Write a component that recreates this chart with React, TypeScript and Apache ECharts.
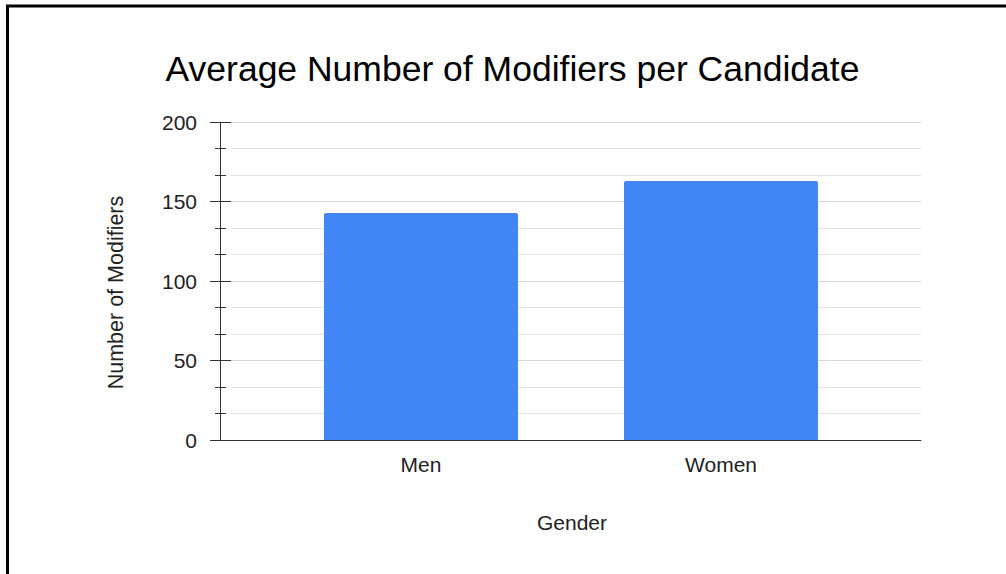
import React, { useEffect, useRef } from "react";
import * as echarts from "echarts";

// Chart content
const chartTitle = "Average Number of Modifiers per Candidate";
const xAxisTitle = "Gender";
const yAxisTitle = "Number of Modifiers";
const categories = ["Men", "Women"];
const modifierCounts = [142.7, 162.9];
const yMin = 0;
const yMax = 200;
const yInterval = 50;

const FONT = "'Liberation Sans', Arial, sans-serif";
const AXIS_COLOR = "#333333";
const TEXT_COLOR = "#222222";

export default function App() {
  const ref = useRef<HTMLDivElement>(null);

  useEffect(() => {
    document.body.style.margin = "0";
    if (!ref.current) return;
    const chart = echarts.init(ref.current, undefined, { renderer: "svg" });

    const option: echarts.EChartsOption = {
      animation: false,
      backgroundColor: "#ffffff",
      textStyle: { fontFamily: FONT },
      grid: [
        // frame for gridlines and the value axis
        { left: 231, right: 85, top: 122, bottom: 134 },
        // inner band for the bars
        { left: 271, right: 135, top: 122, bottom: 134 },
      ],
      xAxis: [
        {
          gridIndex: 0,
          type: "value",
          min: 0,
          max: 1,
          axisLine: {
            show: true,
            onZero: false,
            lineStyle: { color: AXIS_COLOR, width: 1 },
          },
          axisTick: { show: false },
          axisLabel: { show: false },
          splitLine: { show: false },
        },
        {
          gridIndex: 1,
          type: "category",
          data: categories,
          axisLine: { show: false },
          axisTick: { show: false },
          axisLabel: {
            fontSize: 21,
            color: TEXT_COLOR,
            fontFamily: FONT,
            margin: 14,
          },
        },
      ],
      yAxis: [
        {
          gridIndex: 0,
          type: "value",
          position: "left",
          min: yMin,
          max: yMax,
          interval: yInterval,
          offset: 11,
          axisLine: {
            show: true,
            onZero: false,
            lineStyle: { color: AXIS_COLOR, width: 1 },
          },
          axisTick: { show: true, length: 10, lineStyle: { color: AXIS_COLOR } },
          minorTick: {
            show: true,
            splitNumber: 3,
            length: 5,
            lineStyle: { color: AXIS_COLOR },
          },
          axisLabel: {
            fontSize: 21,
            color: TEXT_COLOR,
            fontFamily: FONT,
            margin: 23,
          },
          splitLine: { show: true, lineStyle: { color: "#d6d6d6", width: 1 } },
          minorSplitLine: { show: true, lineStyle: { color: "#e4e4e4", width: 1 } },
        },
        {
          // inward half of the crossing ticks
          gridIndex: 0,
          type: "value",
          position: "left",
          min: yMin,
          max: yMax,
          interval: yInterval,
          offset: 11,
          axisLine: { show: false, onZero: false },
          axisTick: {
            show: true,
            inside: true,
            length: 11,
            lineStyle: { color: AXIS_COLOR },
          },
          minorTick: {
            show: true,
            splitNumber: 3,
            length: 6,
            lineStyle: { color: AXIS_COLOR },
          },
          axisLabel: { show: false },
          splitLine: { show: false },
        },
        {
          gridIndex: 1,
          type: "value",
          min: yMin,
          max: yMax,
          show: false,
        },
      ],
      series: [
        {
          type: "bar",
          xAxisIndex: 1,
          yAxisIndex: 2,
          data: modifierCounts,
          barWidth: 194,
          itemStyle: { color: "#4285f4", borderRadius: [2, 2, 0, 0] },
        },
      ],
      graphic: [
        {
          type: "rect",
          shape: { x: 7.5, y: 6, width: 1200, height: 800 },
          style: { fill: "none", stroke: "#000000", lineWidth: 3 },
          silent: true,
        },
        {
          type: "text",
          x: 512.5,
          y: 68.5,
          style: {
            text: chartTitle,
            fontSize: 35.5,
            fontFamily: FONT,
            fill: "#000000",
            align: "center",
            verticalAlign: "middle",
          },
        },
        {
          type: "text",
          x: 572,
          y: 522.5,
          style: {
            text: xAxisTitle,
            fontSize: 21,
            fontFamily: FONT,
            fill: TEXT_COLOR,
            align: "center",
            verticalAlign: "middle",
          },
        },
        {
          type: "text",
          x: 116,
          y: 292.5,
          rotation: Math.PI / 2,
          style: {
            text: yAxisTitle,
            fontSize: 21.5,
            fontFamily: FONT,
            fill: TEXT_COLOR,
            align: "center",
            verticalAlign: "middle",
          },
        },
      ],
    };

    chart.setOption(option);
    return () => chart.dispose();
  }, []);

  return <div ref={ref} style={{ width: 1006, height: 574 }} />;
}
